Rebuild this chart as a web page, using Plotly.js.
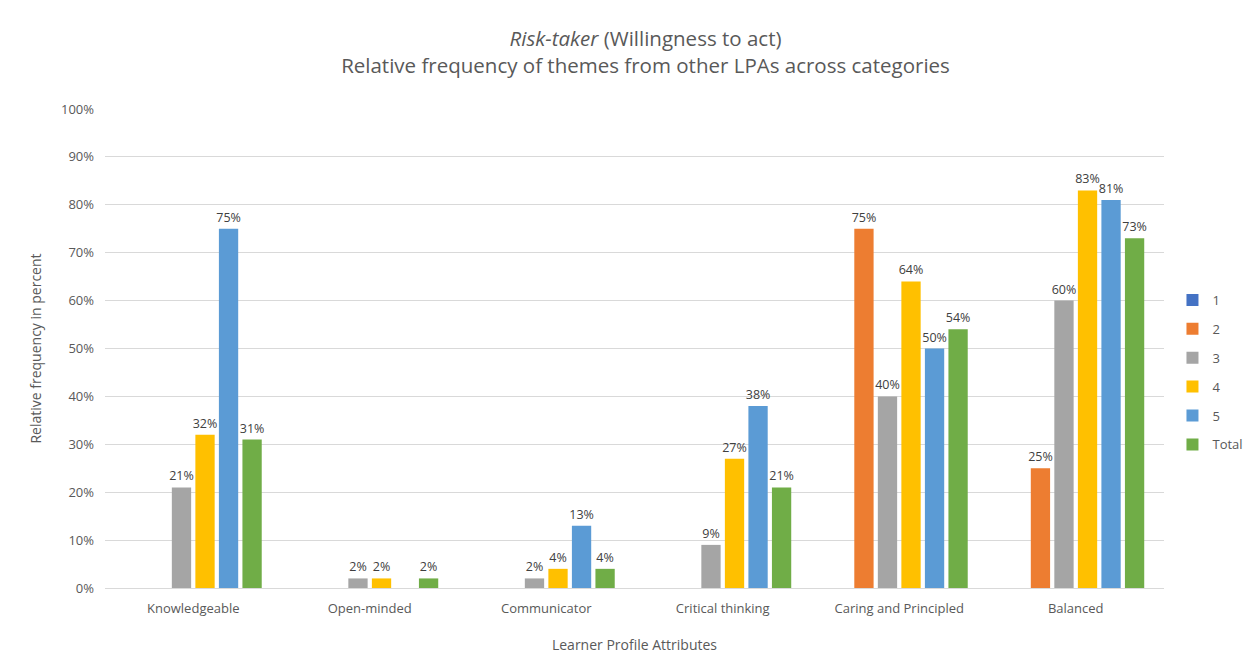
<!DOCTYPE html>
<html>
<head>
<meta charset="utf-8">
<script src="https://cdn.plot.ly/plotly-3.0.1.min.js"></script>
<style>
html,body{margin:0;padding:0;background:#fff;}
#chart{width:1249px;height:660px;}
</style>
</head>
<body>
<div id="chart"></div>
<script>
const categories = ["Knowledgeable","Open-minded","Communicator","Critical thinking","Caring and Principled","Balanced"];
const seriesNames = ["1","2","3","4","5","Total"];
const s1 = [0,0,0,0,0,0];
const s2 = [0,0,0,0,0.75,0.25];
const s3 = [0.21,0.02,0.02,0.09,0.40,0.60];
const s4 = [0.32,0.02,0.04,0.27,0.64,0.83];
const s5 = [0.75,0,0.13,0.38,0.50,0.81];
const sTotal = [0.31,0.02,0.04,0.21,0.54,0.73];
const colors = ["#4472C4","#ED7D31","#A5A5A5","#FFC000","#5B9BD5","#70AD47"];

const allSeries = [s1,s2,s3,s4,s5,sTotal];
const font = "'Open Sans', sans-serif";

const traces = allSeries.map((vals,i) => ({
  type: "bar",
  name: seriesNames[i],
  legendgroup: "g"+i,
  x: categories,
  y: vals,
  marker: {color: colors[i]},
  text: vals.map(v => v > 0 ? Math.round(v*100) + "%" : ""),
  textposition: "outside",
  constraintext: "none",
  textfont: {size: 12.5, color: "#404040", family: font},
  cliponaxis: false,
  hoverinfo: "x+y+name"
}));

const layout = {
  width: 1249, height: 660,
  paper_bgcolor: "#fff", plot_bgcolor: "#fff",
  font: {family: font, color: "#595959", size: 12.5},
  margin: {l: 105, r: 85, t: 109, b: 72, autoexpand: false},
  title: {
    text: "<i>Risk-taker</i> (Willingness to act)<br>Relative frequency of themes from other LPAs across categories",
    font: {size: 20.5, color: "#595959", family: font},
    x: 0.5104, xanchor: "center", xref: "paper",
    y: 1 - 46/660, yanchor: "top", yref: "container"
  },
  barmode: "group",
  bargap: 0.2,
  bargroupgap: 0.18,
  xaxis: {
    title: {text: "Learner Profile Attributes", font: {size: 14, color: "#595959"}, standoff: 24},
    showline: true, linecolor: "#d9d9d9", linewidth: 1,
    ticks: "", tickfont: {size: 13, color: "#595959"},
    ticklabelstandoff: 8,
    showgrid: false
  },
  yaxis: {
    title: {text: "Relative frequency in percent", font: {size: 14, color: "#595959"}, standoff: 16},
    range: [0, 1], dtick: 0.1, tickformat: ".0%",
    showgrid: true, gridcolor: "#d9d9d9", gridwidth: 1,
    zeroline: false, showline: false, ticks: "",
    ticklabelstandoff: 10,
    tickfont: {size: 13, color: "#595959"}
  },
  legend: {
    x: 1.008, xanchor: "left", y: 0.45, yanchor: "middle",
    font: {size: 13, color: "#595959"},
    tracegroupgap: 9,
    itemwidth: 30
  },
  showlegend: true
};

Plotly.newPlot("chart", traces, layout, {displayModeBar: false, staticPlot: true});
</script>
</body>
</html>
